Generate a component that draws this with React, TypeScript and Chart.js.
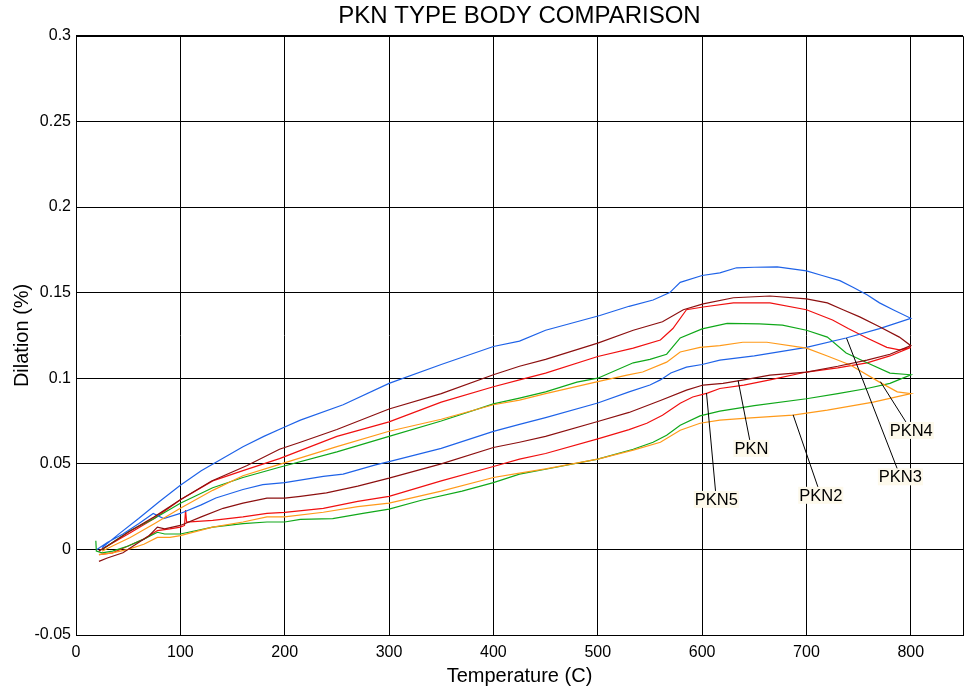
import React, { useEffect, useRef } from "react";
import { Chart, registerables } from "chart.js";

Chart.register(...registerables);

const FONT = "Arial, 'Liberation Sans', Helvetica, sans-serif";

const xTicks = [0, 100, 200, 300, 400, 500, 600, 700, 800];
const yTicks = [-0.05, 0, 0.05, 0.1, 0.15, 0.2, 0.25, 0.3];

// PKN (maroon): heating then cooling
const pknTemp = [22, 30, 45, 60, 70, 78, 85, 100, 120, 141, 160, 183, 200, 215, 240, 270, 300, 350, 400, 425, 450, 500, 530, 560, 585, 601, 620, 640, 665, 700, 730, 758, 780, 800,
  789, 770, 751, 735, 720, 700, 665, 630, 601, 582, 562, 534, 500, 450, 425, 400, 350, 300, 250, 215, 195, 164, 130, 100, 75, 50, 30, 22];
const pknDil = [-0.007, -0.005, -0.002, 0.004, 0.008, 0.013, 0.012, 0.014, 0.019, 0.024, 0.027, 0.030, 0.030, 0.031, 0.033, 0.037, 0.0416, 0.050, 0.0595, 0.0626, 0.066, 0.0747, 0.080, 0.087, 0.093, 0.096, 0.097, 0.099, 0.1018, 0.1036, 0.107, 0.1106, 0.114, 0.119,
  0.124, 0.130, 0.1358, 0.140, 0.144, 0.1463, 0.148, 0.147, 0.1434, 0.140, 0.133, 0.128, 0.1205, 0.111, 0.107, 0.102, 0.091, 0.082, 0.070, 0.0626, 0.0585, 0.049, 0.040, 0.029, 0.019, 0.010, 0.002, -0.001];

// PKN2 (orange)
const pkn2Temp = [22, 35, 50, 65, 78, 90, 100, 131, 160, 183, 200, 237, 270, 300, 350, 400, 425, 450, 500, 534, 560, 579, 598, 617, 643, 687, 720, 764, 800,
  787, 770, 742, 720, 700, 662, 639, 617, 598, 579, 566, 543, 528, 500, 450, 425, 400, 350, 300, 250, 195, 160, 131, 100, 75, 52, 35, 25];
const pkn2Dil = [-0.003, -0.002, 0.000, 0.003, 0.007, 0.007, 0.008, 0.013, 0.016, 0.019, 0.019, 0.0217, 0.025, 0.027, 0.034, 0.042, 0.0445, 0.047, 0.0527, 0.058, 0.0626, 0.0696, 0.0737, 0.0755, 0.0767, 0.0784, 0.0813, 0.086, 0.091,
  0.092, 0.0977, 0.1077, 0.113, 0.1176, 0.121, 0.121, 0.119, 0.118, 0.1153, 0.1094, 0.1036, 0.1018, 0.098, 0.091, 0.0872, 0.0845, 0.076, 0.069, 0.060, 0.0497, 0.043, 0.0345, 0.024, 0.015, 0.007, 0.002, -0.001];

// PKN3 (blue)
const pkn3Temp = [20, 30, 45, 60, 74, 84, 100, 120, 134, 160, 179, 200, 237, 256, 287, 300, 350, 400, 425, 450, 500, 530, 550, 560, 570, 585, 600, 617, 650, 700, 738, 770, 800,
  783, 770, 758, 745, 732, 715, 700, 672, 650, 633, 617, 600, 579, 569, 553, 530, 502, 450, 425, 400, 350, 300, 256, 215, 200, 180, 160, 140, 120, 100, 80, 60, 40, 25];
const pkn3Dil = [0.000, 0.004, 0.009, 0.015, 0.021, 0.018, 0.021, 0.026, 0.030, 0.035, 0.0378, 0.039, 0.0427, 0.044, 0.0494, 0.0513, 0.059, 0.0689, 0.073, 0.077, 0.0855, 0.092, 0.096, 0.099, 0.103, 0.1065, 0.108, 0.1106, 0.113, 0.118, 0.1235, 0.129, 0.135,
  0.140, 0.144, 0.1487, 0.153, 0.157, 0.160, 0.1627, 0.165, 0.1648, 0.1645, 0.1615, 0.160, 0.156, 0.150, 0.1457, 0.142, 0.1366, 0.128, 0.1217, 0.1185, 0.108, 0.097, 0.0845, 0.0755, 0.0715, 0.066, 0.060, 0.053, 0.046, 0.0375, 0.028, 0.018, 0.0085, 0.001];

// PKN4 (green)
const pkn4Temp = [19, 19.5, 25, 35, 50, 65, 78, 85, 100, 131, 160, 183, 200, 215, 246, 275, 300, 331, 370, 400, 425, 460, 500, 534, 553, 566, 579, 598, 617, 650, 700, 730, 758, 780, 800,
  780, 758, 738, 720, 700, 677, 655, 624, 600, 579, 566, 550, 534, 500, 480, 450, 425, 400, 350, 300, 250, 195, 160, 131, 100, 75, 52, 35, 25];
const pkn4Dil = [0.005, -0.001, -0.002, -0.001, 0.002, 0.006, 0.010, 0.009, 0.009, 0.013, 0.015, 0.016, 0.016, 0.0175, 0.018, 0.021, 0.0235, 0.0287, 0.034, 0.039, 0.044, 0.048, 0.0527, 0.0585, 0.0626, 0.0667, 0.0725, 0.078, 0.0808, 0.084, 0.088, 0.091, 0.094, 0.097, 0.102,
  0.103, 0.109, 0.1147, 0.124, 0.128, 0.131, 0.1317, 0.132, 0.1288, 0.1235, 0.114, 0.111, 0.109, 0.100, 0.0977, 0.092, 0.0884, 0.085, 0.075, 0.066, 0.057, 0.048, 0.042, 0.036, 0.027, 0.018, 0.011, 0.004, 0.000];

// PKN5 (red)
const pkn5Temp = [22, 35, 50, 65, 78, 90, 100, 104, 105, 106, 131, 160, 183, 200, 237, 270, 300, 350, 400, 425, 450, 500, 530, 547, 562, 579, 591, 605, 617, 640, 665, 700, 730, 758, 780, 800,
  789, 777, 758, 740, 725, 700, 665, 630, 601, 585, 572, 560, 534, 500, 450, 425, 400, 350, 300, 250, 195, 160, 131, 100, 75, 50, 30, 22];
const pkn5Dil = [-0.003, -0.002, 0.002, 0.006, 0.011, 0.012, 0.013, 0.014, 0.023, 0.016, 0.017, 0.019, 0.021, 0.0216, 0.024, 0.028, 0.031, 0.040, 0.0484, 0.0527, 0.056, 0.0646, 0.070, 0.0737, 0.0784, 0.0854, 0.089, 0.0913, 0.094, 0.096, 0.099, 0.1036, 0.106, 0.109, 0.113, 0.118,
  0.1165, 0.118, 0.1235, 0.129, 0.134, 0.140, 0.144, 0.144, 0.1416, 0.140, 0.129, 0.1223, 0.1176, 0.1127, 0.103, 0.099, 0.095, 0.086, 0.0745, 0.066, 0.053, 0.046, 0.040, 0.029, 0.018, 0.009, 0.002, -0.001];

const seriesNames = ["PKN", "PKN2", "PKN3", "PKN4", "PKN5"];
const seriesColors = ["#8c1010", "#ff9a1a", "#1f63e8", "#10a81a", "#f01010"];
const seriesTemps = [pknTemp, pkn2Temp, pkn3Temp, pkn4Temp, pkn5Temp];
const seriesDils = [pknDil, pkn2Dil, pkn3Dil, pkn4Dil, pkn5Dil];

// Callout labels: text, label centre (T, dilation), target point (T, dilation)
const calloutText = ["PKN", "PKN5", "PKN2", "PKN3", "PKN4"];
const calloutLabelT = [647.2, 613.6, 713.7, 790.0, 800.4];
const calloutLabelV = [0.0590, 0.0292, 0.0316, 0.0424, 0.0695];
const calloutTargetT = [634.5, 604.2, 687.2, 738.4, 770.8];
const calloutTargetV = [0.0986, 0.0913, 0.0786, 0.1234, 0.0980];

const framePlugin = {
  id: "frameAndCallouts",
  afterDatasetsDraw(chart: any) {
    const { ctx, chartArea, scales } = chart;
    const xs = scales.x;
    const ys = scales.y;
    ctx.save();
    ctx.strokeStyle = "#000";
    ctx.lineWidth = 1;
    ctx.beginPath();
    ctx.rect(Math.round(chartArea.left) + 0.5, Math.round(chartArea.top) + 0.5,
      Math.round(chartArea.right - chartArea.left), Math.round(chartArea.bottom - chartArea.top));
    ctx.stroke();

    ctx.font = `16.5px ${FONT}`;
    ctx.textAlign = "center";
    ctx.textBaseline = "middle";
    for (let i = 0; i < calloutText.length; i++) {
      const lx = xs.getPixelForValue(calloutLabelT[i]);
      const ly = ys.getPixelForValue(calloutLabelV[i]);
      const tx = xs.getPixelForValue(calloutTargetT[i]);
      const ty = ys.getPixelForValue(calloutTargetV[i]);
      ctx.strokeStyle = "#000";
      ctx.lineWidth = 1;
      ctx.beginPath();
      ctx.moveTo(tx, ty);
      ctx.lineTo(lx, ly);
      ctx.stroke();
      const w = ctx.measureText(calloutText[i]).width + 2;
      const h = 17;
      ctx.fillStyle = "rgb(253,249,235)";
      ctx.fillRect(lx - w / 2, ly - h / 2, w, h);
      ctx.fillStyle = "#000";
      ctx.fillText(calloutText[i], lx, ly + 1);
    }
    ctx.restore();
  },
};

export default function App() {
  const ref = useRef<HTMLCanvasElement | null>(null);

  useEffect(() => {
    if (!ref.current) return;
    const datasets = seriesNames.map((name, i) => ({
      label: name,
      data: seriesTemps[i].map((t, j) => ({ x: t, y: seriesDils[i][j] })),
      showLine: true,
      borderColor: seriesColors[i],
      backgroundColor: seriesColors[i],
      borderWidth: 1.2,
      pointRadius: 0,
      tension: 0,
      fill: false,
    }));
    const chart = new Chart(ref.current, {
      type: "scatter",
      data: { datasets },
      plugins: [framePlugin],
      options: {
        animation: false,
        responsive: false,
        layout: { padding: { top: 0, right: 4, bottom: 0, left: 0 } },
        plugins: {
          legend: { display: false },
          tooltip: { enabled: false },
          title: {
            display: true,
            fullSize: false,
            text: "PKN TYPE BODY COMPARISON",
            color: "#000",
            font: { family: FONT, size: 24, weight: "normal" },
            padding: { top: 2, bottom: 5 },
          },
        },
        scales: {
          x: {
            type: "linear",
            min: 0,
            max: 850,
            afterBuildTicks: (s: any) => {
              s.ticks = xTicks.map((v) => ({ value: v }));
            },
            afterFit: (s: any) => {
              s.height = 55;
            },
            ticks: {
              color: "#000",
              font: { family: FONT, size: 16 },
              padding: 8,
              maxRotation: 0,
              callback: (v: any) => String(v),
            },
            grid: { color: "#000", lineWidth: 1, drawTicks: false },
            border: { color: "#000", width: 1 },
            title: {
              display: true,
              text: "Temperature (C)",
              color: "#000",
              font: { family: FONT, size: 20 },
              padding: { top: 0, bottom: 2 },
            },
          },
          y: {
            type: "linear",
            min: -0.05,
            max: 0.3,
            afterBuildTicks: (s: any) => {
              s.ticks = yTicks.map((v) => ({ value: v }));
            },
            afterFit: (s: any) => {
              s.width = 76;
            },
            ticks: {
              color: "#000",
              font: { family: FONT, size: 16 },
              padding: 5,
              callback: (v: any) => String(parseFloat(Number(v).toFixed(2))),
            },
            grid: { color: "#000", lineWidth: 1, drawTicks: false },
            border: { color: "#000", width: 1 },
            title: {
              display: true,
              text: "Dilation (%)",
              color: "#000",
              font: { family: FONT, size: 20 },
              padding: { top: 10, bottom: 0 },
            },
          },
        },
      } as any,
    });
    return () => chart.destroy();
  }, []);

  return (
    <div style={{ position: "fixed", left: 0, top: 0, width: 967, height: 690, background: "#fff" }}>
      <canvas ref={ref} width={967} height={690} style={{ display: "block" }} />
    </div>
  );
}
